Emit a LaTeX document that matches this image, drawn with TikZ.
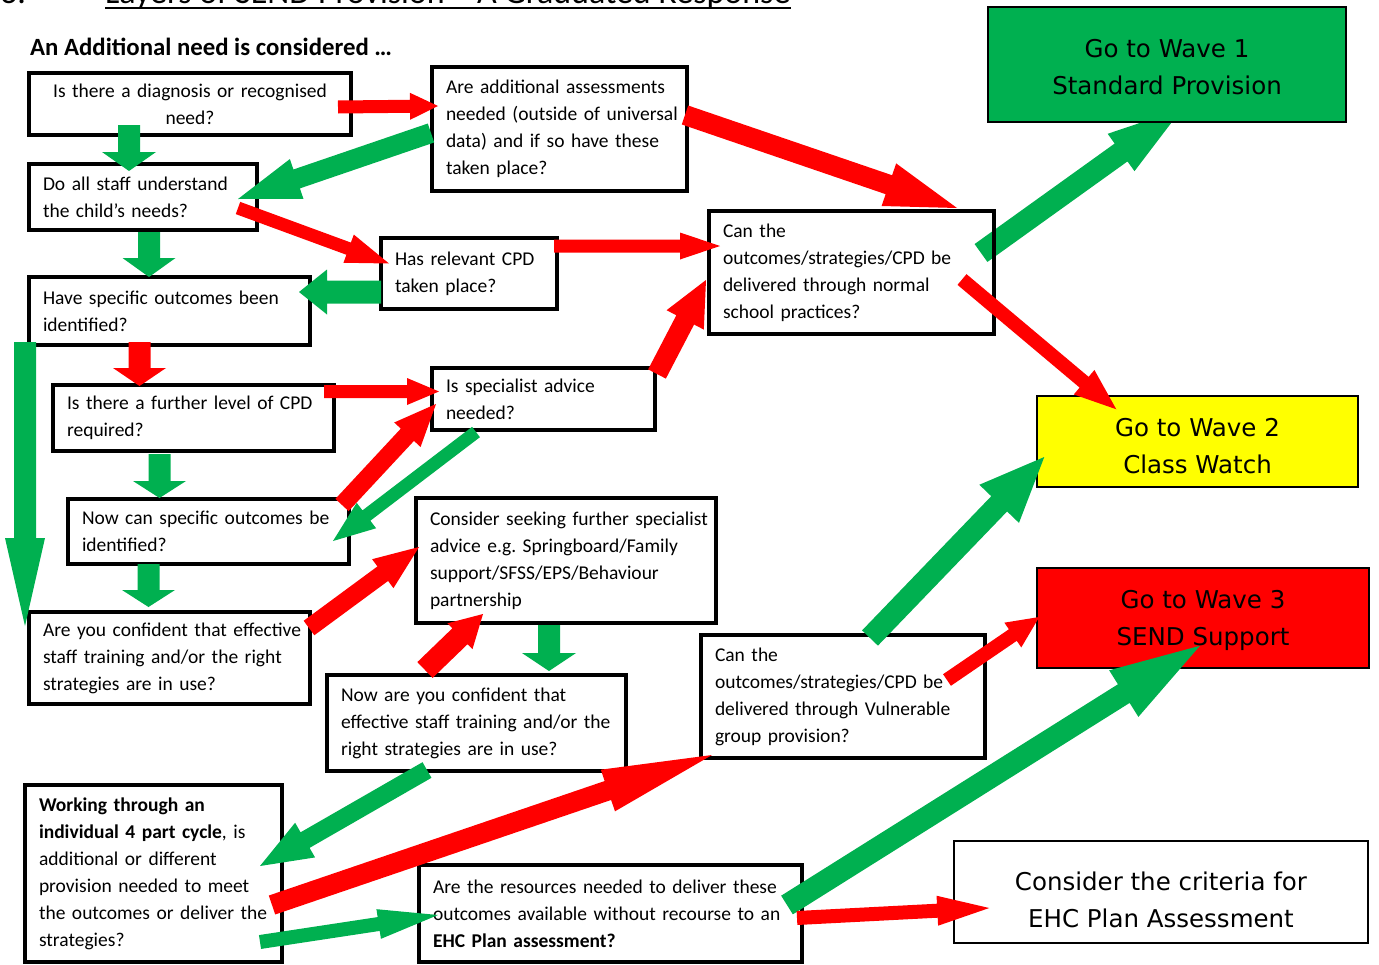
\documentclass[tikz,border=0pt]{standalone}
\usepackage{fontspec}
\setmainfont{Carlito}
\newfontfamily\wavefamily{DejaVu Sans}
\usetikzlibrary{calc,backgrounds}
\definecolor{agreen}{HTML}{00B050}
\definecolor{ared}{HTML}{FF0000}
\definecolor{ayellow}{HTML}{FFFF00}
\newcommand\qfont{\fontsize{19.5pt}{27pt}\selectfont}
\newcommand\wfont{\wavefamily\fontsize{24.5pt}{37pt}\selectfont}
% block arrow: colour, tail coord, tip coord, shaft width, head width, head length
\newcommand\blockarr[6]{%
  \path ($(#3)!#6pt!(#2)$) coordinate (bh);
  \fill[#1] ($(#2)!#4pt/2!90:(#3)$) -- ($(bh)!#4pt/2!90:(#3)$) -- ($(bh)!#5pt/2!90:(#3)$) -- (#3)
    -- ($(bh)!#5pt/2!-90:(#3)$) -- ($(bh)!#4pt/2!-90:(#3)$) -- ($(#2)!#4pt/2!-90:(#3)$) -- cycle;}
\tikzset{
  qbox/.style={draw, line width=4pt, inner xsep=14pt, inner ysep=0pt, align=left, font=\qfont},
  wbox/.style={draw, line width=1.5pt, inner sep=0pt},
  wtext/.style={inner sep=0pt, align=center, font=\wfont},
  ttl/.style={anchor=base west, inner sep=0pt, font=\fontsize{34pt}{40pt}\selectfont},
}
\begin{document}
\begin{tikzpicture}[x=1pt,y=-1pt]
\useasboundingbox (0,0) rectangle (1379,964);
\clip (0,0) rectangle (1379,964);

% titles
\node[ttl] (num) at (0,3) {3.};
\node[ttl] (title) at (105,3) {Layers of SEND Provision – A Graduated Response};
\draw[line width=2pt] ($(title.base west)+(0,5)$) -- ($(title.base east)+(0,5)$);
\node[anchor=west, inner sep=0pt, font=\bfseries\fontsize{24.8pt}{28pt}\selectfont] (head) at (30,47) {An Additional need is considered …};

% question boxes
\node[qbox, align=center, minimum width=322pt, minimum height=62pt, text width=294pt] (b1) at (190,104)
  {\mbox{Is there a diagnosis or recognised}\\need?};
\node[qbox, minimum width=255pt, minimum height=124pt, text width=227pt] (b2) at (559.5,129)
  {\mbox{Are additional assessments}\\\mbox{needed (outside of universal}\\\mbox{data) and if so have these}\\\mbox{taken place?}};
\node[qbox, minimum width=228pt, minimum height=66pt, text width=200pt] (b3) at (143,197)
  {\mbox{Do all staff understand}\\\mbox{the child’s needs?}};
\node[qbox, minimum width=176pt, minimum height=71pt, text width=148pt] (b4) at (469,273.5)
  {\mbox{Has relevant CPD}\\\mbox{taken place?}};
\node[qbox, minimum width=285pt, minimum height=123pt, text width=257pt] (b5) at (851.5,272.5)
  {\mbox{Can the}\\\mbox{outcomes/strategies/CPD be}\\\mbox{delivered through normal}\\\mbox{school practices?}};
\node[qbox, minimum width=281pt, minimum height=68pt, text width=253pt] (b6) at (169.5,311)
  {\mbox{Have specific outcomes been}\\\mbox{identified?}};
\node[qbox, minimum width=281pt, minimum height=66pt, text width=253pt] (b7) at (193.5,418)
  {\mbox{Is there a further level of CPD}\\\mbox{required?}};
\node[qbox, minimum width=223pt, minimum height=62pt, text width=195pt] (b8) at (543.5,399)
  {\mbox{Is specialist advice}\\\mbox{needed?}};
\node[qbox, minimum width=281pt, minimum height=65pt, text width=253pt] (b9) at (208.5,531.5)
  {\mbox{Now can specific outcomes be}\\\mbox{identified?}};
\node[qbox, minimum width=300pt, minimum height=125pt, text width=272pt] (b10) at (566,560.5)
  {\mbox{Consider seeking further specialist}\\\mbox{advice e.g.\ Springboard/Family}\\\mbox{support/SFSS/EPS/Behaviour}\\\mbox{partnership}};
\node[qbox, minimum width=281pt, minimum height=92pt, text width=253pt] (b11) at (169.5,658)
  {\mbox{Are you confident that effective}\\\mbox{staff training and/or the right}\\\mbox{strategies are in use?}};
\node[qbox, minimum width=299pt, minimum height=96pt, text width=271pt] (b12) at (476.5,723)
  {\mbox{Now are you confident that}\\\mbox{effective staff training and/or the}\\\mbox{right strategies are in use?}};
\node[qbox, minimum width=284pt, minimum height=123pt, text width=256pt] (b13) at (843,696.5)
  {\mbox{Can the}\\\mbox{outcomes/strategies/CPD be}\\\mbox{delivered through Vulnerable}\\\mbox{group provision?}};
\node[qbox, minimum width=257pt, minimum height=177pt, text width=229pt] (b14) at (153.5,873.5)
  {\mbox{\textbf{Working through an}}\\\mbox{\textbf{individual 4 part cycle}, is}\\\mbox{additional or different}\\\mbox{provision needed to meet}\\\mbox{the outcomes or deliver the}\\\mbox{strategies?}};
\node[qbox, minimum width=383pt, minimum height=97pt, text width=355pt] (b15) at (610.5,913.5)
  {\mbox{Are the resources needed to deliver these}\\\mbox{outcomes available without recourse to an}\\\mbox{\textbf{EHC Plan assessment?}}};

% outcome boxes
\node[wbox, fill=agreen, minimum width=358pt, minimum height=115pt] (w1) at (1167,64.5) {};
\node[wbox, fill=ayellow, minimum width=321pt, minimum height=91pt] (w2) at (1197.5,441.5) {};
\node[wbox, fill=ared, minimum width=332pt, minimum height=100pt] (w3) at (1203,618) {};
\node[wbox, fill=white, minimum width=414pt, minimum height=102pt] (w4) at (1161,892) {};

% arrow end points
\coordinate (a1t) at ($(b1.east)+(-15,3)$);        \coordinate (a1h) at ($(b2.west)+(8,-23)$);
\coordinate (a2t) at ($(b2.west)+(1,4)$);          \coordinate (a2h) at ($(b3.east)+(-21,2)$);
\coordinate (a3t) at ($(b1.south)+(-61,-12)$);     \coordinate (a3h) at ($(b3.north)+(-14,9)$);
\coordinate (a4t) at ($(b3.east)+(-21,11)$);       \coordinate (a4h) at ($(b4.west)+(10,-10)$);
\coordinate (a5t) at ($(b3.south)+(6,0)$);         \coordinate (a5h) at ($(b6.north)+(-20.5,2)$);
\coordinate (a6t) at ($(b4.west)+(2,18.5)$);       \coordinate (a6h) at ($(b6.east)+(-13,-19)$);
\coordinate (a7t) at ($(b2.east)+(-4,-14)$);       \coordinate (a7h) at ($(b5.north east)+(-39,-1)$);
\coordinate (a8t) at ($(b4.east)+(-5,-27.5)$);     \coordinate (a8h) at ($(b5.west)+(13,-26.5)$);
\coordinate (a9t) at ($(b5.east)+(-15,-19.5)$);    \coordinate (a9h) at ($(w1.south)+(15,-14)$);
\coordinate (a10t) at ($(b5.east)+(-34,7)$);       \coordinate (a10h) at ($(w2.north west)+(80,14)$);
\coordinate (a11t) at ($(b6.south west)+(-2,-5)$); \coordinate (a11h) at ($(b11.north west)+(-2,16)$);
\coordinate (a12t) at ($(b6.south)+(-30,-5)$);     \coordinate (a12h) at ($(b7.north)+(-54,3)$);
\coordinate (a13t) at ($(b7.east)+(-12,-26.5)$);   \coordinate (a13h) at ($(b8.west)+(9,-7.5)$);
\coordinate (a14t) at ($(b9.north east)+(-9,8)$);  \coordinate (a14h) at ($(b8.west)+(6,5)$);
\coordinate (a15t) at ($(b8.south)+(-67.5,0)$);    \coordinate (a15h) at ($(b9.east)+(-18,9.5)$);
\coordinate (a16t) at ($(b8.north east)+(0,8)$);   \coordinate (a16h) at ($(b5.west)+(-1,7.5)$);
\coordinate (a17t) at ($(b7.south)+(-34,1)$);      \coordinate (a17h) at ($(b9.north)+(-49,1)$);
\coordinate (a18t) at ($(b9.south)+(-60,-2)$);     \coordinate (a18h) at ($(b11.north)+(-21,-3)$);
\coordinate (a19t) at ($(b11.north east)+(-3,18)$);\coordinate (a19h) at ($(b10.west)+(5,-13.5)$);
\coordinate (a20t) at ($(b12.north)+(-51.5,-3)$);  \coordinate (a20h) at ($(b10.south)+(-83,-11)$);
\coordinate (a21t) at ($(b10.south)+(-17,0)$);     \coordinate (a21h) at ($(b12.north)+(72.5,-2)$);
\coordinate (a22t) at ($(b12.south)+(-49.5,-3)$);  \coordinate (a22h) at ($(b14.east)+(-24,-7.5)$);
\coordinate (a23t) at ($(b14.east)+(-12,31.5)$);   \coordinate (a23h) at ($(b13.south west)+(13,-5)$);
\coordinate (a24t) at ($(b14.east)+(-24,68.5)$);   \coordinate (a24h) at ($(b15.west)+(21,1.5)$);
\coordinate (a25t) at ($(b13.north)+(27,5)$);      \coordinate (a25h) at ($(w2.west)+(8,15.5)$);
\coordinate (a26t) at ($(b13.east)+(-40,-16.5)$);  \coordinate (a26h) at ($(w3.west)+(3,-1)$);
\coordinate (a27t) at ($(b15.east)+(-17,-8.5)$);   \coordinate (a27h) at ($(w3.south)+(-3,-23)$);
\coordinate (a28t) at ($(b15.east)+(-7,4.5)$);     \coordinate (a28h) at ($(w4.west)+(36,16)$);

\begin{scope}[on background layer]
\blockarr{agreen}{a9t}{a9h}{22}{46}{75}
\end{scope}

\blockarr{ared}{a1t}{a1h}{13}{27}{28}
\blockarr{agreen}{a2t}{a2h}{20}{42}{62}
\blockarr{agreen}{a3t}{a3h}{22}{54}{19}
\blockarr{ared}{a4t}{a4h}{13}{30}{43}
\blockarr{agreen}{a5t}{a5h}{22}{53}{19}
\blockarr{agreen}{a6t}{a6h}{23}{45}{28}
\blockarr{ared}{a7t}{a7h}{20}{45}{72}
\blockarr{ared}{a8t}{a8h}{13}{27}{40}
\blockarr{ared}{a10t}{a10h}{14}{32}{42}
\blockarr{agreen}{a11t}{a11h}{22}{40}{88}
\blockarr{ared}{a12t}{a12h}{22}{53}{18}
\blockarr{ared}{a13t}{a13h}{13}{27}{32}
\blockarr{ared}{a14t}{a14h}{18}{36}{42}
\blockarr{agreen}{a15t}{a15h}{13}{32}{42}
\blockarr{ared}{a16t}{a16h}{20}{42}{45}
\blockarr{agreen}{a17t}{a17h}{22}{53}{17}
\blockarr{agreen}{a18t}{a18h}{22}{53}{17}
\blockarr{ared}{a19t}{a19h}{18}{36}{45}
\blockarr{ared}{a20t}{a20h}{22}{36}{32}
\blockarr{agreen}{a21t}{a21h}{22}{54}{18}
\blockarr{agreen}{a22t}{a22h}{18}{40}{52}
\blockarr{ared}{a23t}{a23h}{20}{44}{110}
\blockarr{agreen}{a24t}{a24h}{14}{30}{60}
\blockarr{agreen}{a25t}{a25h}{22}{55}{65}
\blockarr{ared}{a26t}{a26h}{14}{30}{32}
\blockarr{agreen}{a27t}{a27h}{22}{55}{90}
\blockarr{ared}{a28t}{a28h}{14}{30}{52}

% outcome texts
\node[wtext] (w1t) at ($(w1.center)+(0,3)$) {Go to Wave 1\\Standard Provision};
\node[wtext] (w2t) at ($(w2.center)+(0,5)$) {Go to Wave 2\\Class Watch};
\node[wtext] (w3t) at ($(w3.center)+(0,2)$) {Go to Wave 3\\SEND Support};
\node[wtext] (w4t) at ($(w4.center)+(0,8)$) {Consider the criteria for\\EHC Plan Assessment};
\end{tikzpicture}
\end{document}
